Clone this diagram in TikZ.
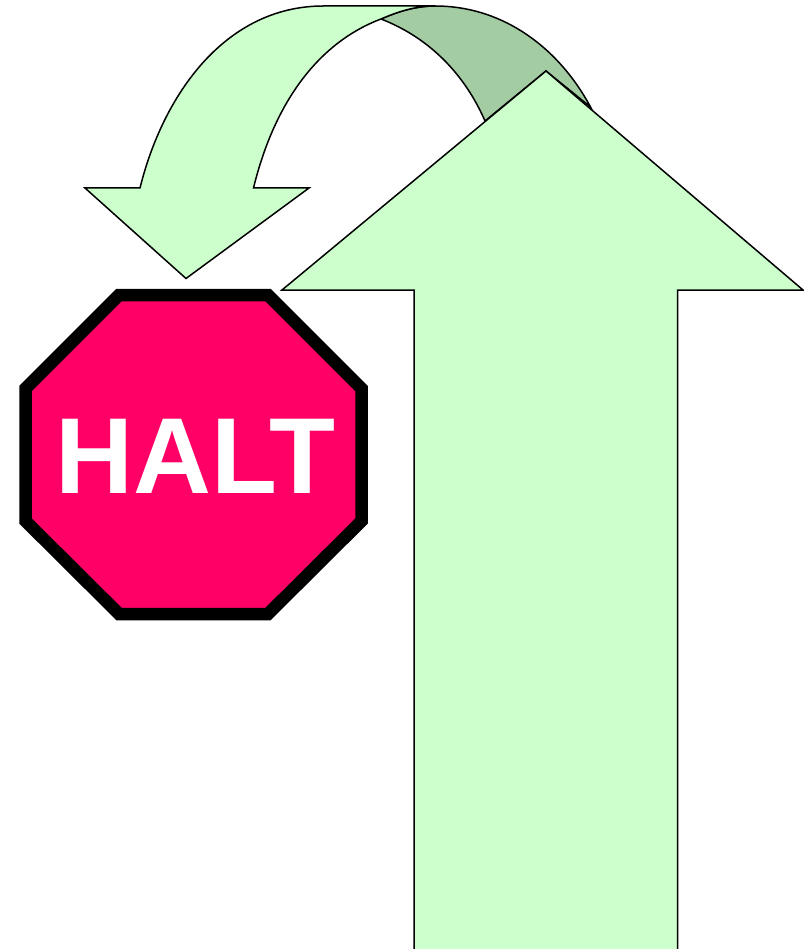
\documentclass[tikz,border=0pt]{standalone}
\usepackage{fontspec}
\setmainfont{Liberation Sans}
\definecolor{palegreen}{HTML}{CCFFCC}
\definecolor{shadegreen}{HTML}{A3CCA3}
\definecolor{haltred}{HTML}{FF0066}
\tikzset{
  arrowpart/.style={draw=black,line width=1.5pt,line join=miter,fill=palegreen},
  shadepart/.style={arrowpart,fill=shadegreen},
  octagon/.style={draw=black,line width=12.5pt,line join=miter,fill=haltred},
  halttext/.style={text=white,inner sep=0pt,anchor=base,font=\fontsize{108}{112}\selectfont\bfseries}
}
\begin{document}
\begin{tikzpicture}[x=1pt,y=-1pt]
\useasboundingbox (0,0) rectangle (803,949);

\draw[shadepart] (381,19) .. controls (430,38) and (465,75) .. (485,121) -- (546,71) -- (590.5,107)
  .. controls (560,50) and (505,6) .. (435,6) .. controls (415,6) and (397,12) .. (381,19);

\draw[arrowpart] (140,188) .. controls (163,95) and (225,6) .. (323.5,6) -- (435,6)
  .. controls (415,6) and (397,12) .. (381,19) .. controls (320,42) and (275,100) .. (253.5,188)
  -- (309,188) -- (186,278.5) -- (85,188) -- cycle;

\draw[arrowpart] (414,949) -- (414,290) -- (282,290) -- (546,71) -- (803,290) -- (677.5,290) -- (677.5,949);

\draw[octagon] (119,295) -- (268,295) -- (361.5,388.5) -- (361.5,521) -- (268,614) -- (119,614) -- (25.5,521) -- (25.5,388.5) -- cycle;
\node[halttext] (halt) at (195.5,493.7) {HALT};
\end{tikzpicture}
\end{document}
